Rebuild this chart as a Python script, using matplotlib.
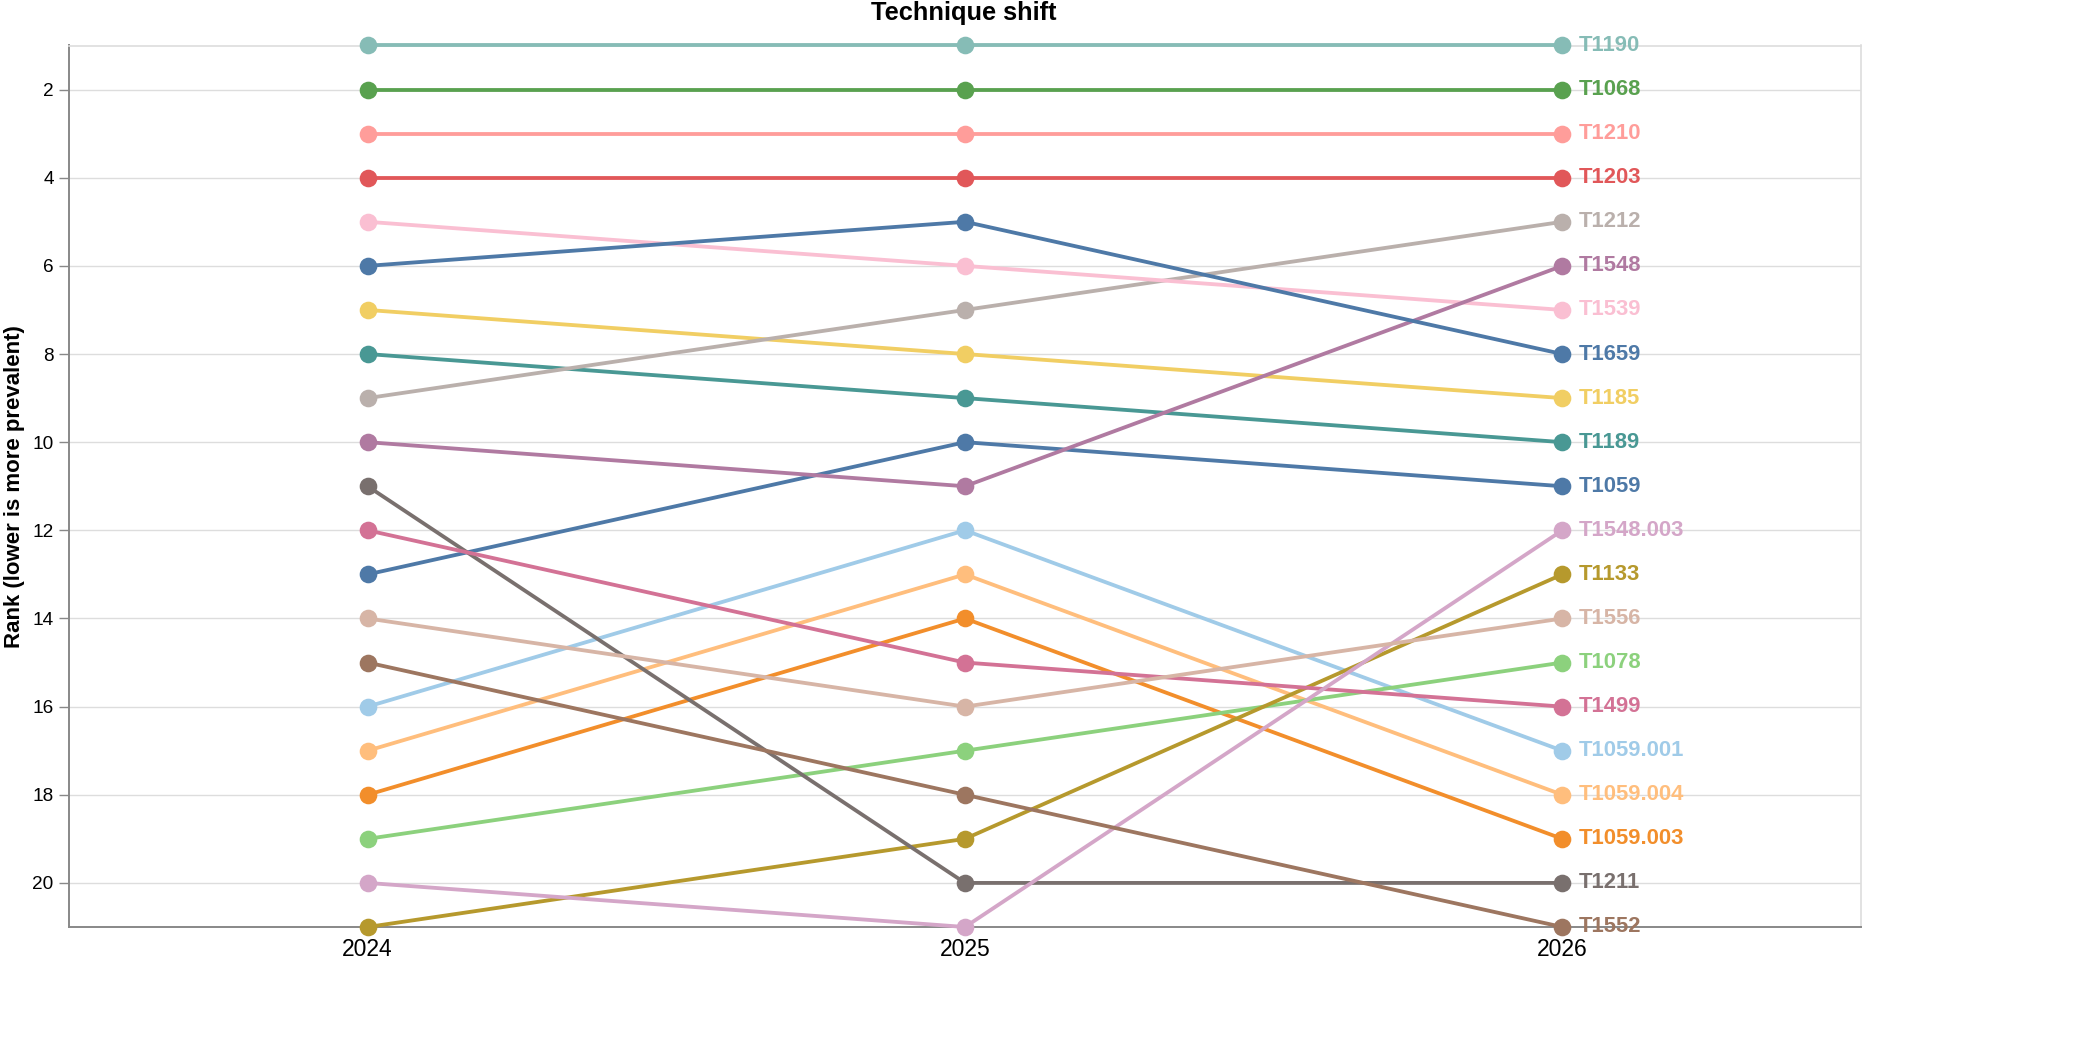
import matplotlib
matplotlib.use("Agg")
import matplotlib.pyplot as plt

# years on the x axis
years = ["2024", "2025", "2026"]

# technique ids and their rank in each year (1 = most prevalent)
techniques = [
	"T1059", "T1059.001", "T1059.003", "T1059.004", "T1068", "T1078", "T1133",
	"T1185", "T1189", "T1190", "T1203", "T1210", "T1211", "T1212", "T1499",
	"T1539", "T1548", "T1548.003", "T1552", "T1556", "T1659",
]
ranks_2024 = [13, 16, 18, 17, 2, 19, 21, 7, 8, 1, 4, 3, 11, 9, 12, 5, 10, 20, 15, 14, 6]
ranks_2025 = [10, 12, 14, 13, 2, 17, 19, 8, 9, 1, 4, 3, 20, 7, 15, 6, 11, 21, 18, 16, 5]
ranks_2026 = [11, 17, 19, 18, 2, 15, 13, 9, 10, 1, 4, 3, 20, 5, 16, 7, 6, 12, 21, 14, 8]

# tableau20, assigned in domain order (wraps for the 21st)
palette = [
	"#4e79a7", "#a0cbe8", "#f28e2b", "#ffbe7d", "#59a14f", "#8cd17d", "#b6992d",
	"#f1ce63", "#499894", "#86bcb6", "#e15759", "#ff9d9a", "#79706e", "#bab0ac",
	"#d37295", "#fabfd2", "#b07aa1", "#d4a6c8", "#9d7660", "#d7b5a6",
]

plt.rcParams["font.family"] = ["Liberation Sans", "DejaVu Sans"]

W, H = 2080, 1040
fig = plt.figure(figsize=(W / 100, H / 100), dpi=100)
left, right, top, bottom = 69, 1861, 45.5, 927
ax = fig.add_axes([left / W, 1 - bottom / H, (right - left) / W, (bottom - top) / H])

xs = list(range(len(years)))
for i, name in enumerate(techniques):
	color = palette[i % len(palette)]
	ys = [ranks_2024[i], ranks_2025[i], ranks_2026[i]]
	ax.plot(xs, ys, color=color, lw=2.75, solid_capstyle="butt", zorder=3, clip_on=False)
	ax.plot(xs, ys, "o", color=color, ms=12.7, mew=0, zorder=4, clip_on=False)
	# end label next to the last point
	ax.annotate(name, (xs[-1], ys[-1]), xytext=(12, 0), textcoords="offset points",
		ha="left", va="center", color=color, fontsize=15.8, fontweight="bold", zorder=5)

ax.set_xlim(-0.5, len(years) - 0.5)
ax.set_ylim(21, 1)
ax.set_xticks(xs)
ax.set_xticklabels(years)
ax.set_yticks(range(2, 21, 2))

ax.grid(axis="y", color="#dddddd", lw=1)
ax.set_axisbelow(True)

for side in ["top", "right"]:
	ax.spines[side].set_color("#dddddd")
	ax.spines[side].set_linewidth(1.2)
for side in ["left", "bottom"]:
	ax.spines[side].set_color("#888888")
	ax.spines[side].set_linewidth(1.4)

ax.tick_params(axis="y", length=7, width=1, color="#888888", labelsize=13.7, pad=4)
ax.tick_params(axis="x", length=4, width=1, color="#888888", labelsize=16.5, pad=4)

fig.text(964 / W, 1 - 1 / H, "Technique shift", ha="center", va="top",
	fontsize=18.3, fontweight="bold")
fig.text(15 / W, 1 - 487 / H, "Rank (lower is more prevalent)", ha="center", va="center",
	rotation=90, fontsize=16, fontweight="bold")

fig.savefig("out.png", dpi=100)
